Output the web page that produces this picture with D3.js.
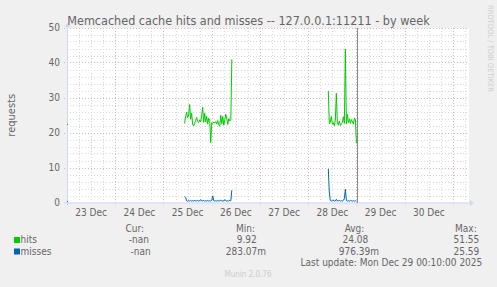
<!DOCTYPE html>
<html><head><meta charset="utf-8">
<script src="https://cdn.jsdelivr.net/npm/d3@7"></script>
<style>
html,body{margin:0;padding:0;background:#F0F0F0;}
svg{display:block;font-family:"DejaVu Sans Condensed","DejaVu Sans",sans-serif;font-stretch:condensed;}
</style></head>
<body>
<svg id="chart" width="497" height="287"></svg>
<script>
// ---- data ----
const title = "Memcached cache hits and misses -- 127.0.0.1:11211 - by week";
const yLabel = "requests";
const yTicks = [0, 10, 20, 30, 40, 50];
const dayLabels = ["23 Dec","24 Dec","25 Dec","26 Dec","27 Dec","28 Dec","29 Dec","30 Dec"];
const seriesNames = ["hits", "misses"];
const seriesColors = ["#00CC00", "#0066B3"];
const statHeaders = ["Cur:", "Min:", "Avg:", "Max:"];
const hitsStats = ["-nan", "9.92", "24.08", "51.55"];
const missesStats = ["-nan", "283.07m", "976.39m", "25.59"];
const lastUpdate = "Last update: Mon Dec 29 00:10:00 2025";
const version = "Munin 2.0.76";
const sideText = "RRDTOOL / TOBI OETIKER";

// time series at 30-minute steps (UTC)
const stepMin = 30;
const startPointTime = "2025-12-23T00:00Z";
const startPointHits = [22.3];
const startPointMisses = [0.3];
const block1Start = "2025-12-25T10:30Z";
const hits1 = [22.6,24.5,25.8,24.2,25.0,28.0,23.8,25.6,22.4,21.9,22.6,23.4,24.3,23.2,22.8,23.6,
  23.0,24.8,27.2,22.9,25.5,23.0,24.6,22.4,24.1,23.5,17.1,22.8,22.6,23.0,22.7,23.1,
  22.4,23.4,22.2,21.8,24.9,22.5,24.6,22.1,23.6,25.2,23.9,22.3,24.0,23.3,23.6,40.9];
const misses1 = [1.7,1.5,0.5,0.4,0.5,0.4,0.6,0.4,0.5,0.4,0.7,0.4,0.5,0.6,0.4,0.5,
  0.8,0.4,0.5,0.6,0.4,0.5,0.4,0.6,0.4,0.5,0.4,0.6,1.9,0.5,0.4,0.5,
  0.4,0.6,0.4,0.5,0.7,0.4,0.5,0.4,0.8,0.5,0.4,0.5,0.4,0.6,0.5,3.5];
const block2Start = "2025-12-28T10:00Z";
const hits2 = [31.9,22.5,23.0,24.6,22.4,22.8,21.9,23.5,31.2,22.6,22.1,23.3,22.0,22.5,22.9,24.5,
  22.6,43.8,22.4,25.2,22.8,23.9,22.6,23.7,23.0,22.4,24.1,23.6,16.9];
const misses2 = [9.6,3.0,0.6,0.4,0.5,0.7,0.4,0.5,0.9,0.4,0.5,0.6,0.4,0.5,0.4,0.6,
  1.2,3.8,0.6,0.4,0.5,0.4,0.6,0.5,0.4,0.5,0.4,0.5,0.4];
const nowTime = "2025-12-29T00:10Z";
const domainStart = "2025-12-23T00:00Z";
const domainEnd = "2025-12-31T08:00Z";

// ---- drawing ----
const svg = d3.select("#chart");
const W = 497, H = 287;
const L = 67, R = 469, T = 28, B = 202.5;
const x = d3.scaleUtc().domain([new Date(domainStart), new Date(domainEnd)]).range([L, R]);
const y = d3.scaleLinear().domain([0, 50]).range([B, T - 0.5]);

svg.append("rect").attr("width", W).attr("height", H).attr("fill", "#F0F0F0");
svg.append("rect").attr("x", L).attr("y", T).attr("width", R - L).attr("height", B - T).attr("fill", "#FFFFFF");

const toPts = (start, vals) => vals.map((v, i) => ({t: new Date(+new Date(start) + i * stepMin * 60000), v}));

// grid
const g = svg.append("g");
const minorY = d3.range(0, 51, 2).filter(v => v % 10 !== 0);
g.selectAll(".hmin").data(minorY).join("line")
  .attr("x1", L).attr("x2", R).attr("y1", d => Math.round(y(d)) + 0.5).attr("y2", d => Math.round(y(d)) + 0.5)
  .attr("stroke", "#d8d8d8").attr("stroke-dasharray", "1,2");
const minorX = d3.utcHour.every(6).range(new Date(domainStart), new Date(domainEnd)).filter(d => d.getUTCHours() !== 0);
g.selectAll(".vmin").data(minorX).join("line")
  .attr("x1", d => Math.round(x(d)) + 0.5).attr("x2", d => Math.round(x(d)) + 0.5).attr("y1", T).attr("y2", B)
  .attr("stroke", "#d8d8d8").attr("stroke-dasharray", "1,2");
g.selectAll(".hmaj").data(yTicks.filter(v => v > 0)).join("line")
  .attr("x1", L - 3).attr("x2", R).attr("y1", d => Math.round(y(d)) + 0.5).attr("y2", d => Math.round(y(d)) + 0.5)
  .attr("stroke", "#ebb0b0").attr("stroke-dasharray", "1,2");
const majorX = d3.utcDay.range(new Date(domainStart), new Date(domainEnd)).filter(d => +d > +new Date(domainStart));
g.selectAll(".vmaj").data(majorX).join("line")
  .attr("x1", d => Math.round(x(d)) + 0.5).attr("x2", d => Math.round(x(d)) + 0.5).attr("y1", T).attr("y2", B + 3)
  .attr("stroke", "#ebb0b0").attr("stroke-dasharray", "1,2");

// axes
const axisColor = "#CFD6F8";
svg.append("line").attr("x1", L - 3).attr("x2", R + 2).attr("y1", B + 0.5).attr("y2", B + 0.5).attr("stroke", axisColor);
svg.append("line").attr("x1", L + 0.5).attr("x2", L + 0.5).attr("y1", B + 3).attr("y2", T - 3).attr("stroke", axisColor);
svg.append("path").attr("d", `M${R + 1},${B - 2.5} L${R + 5},${B + 0.5} L${R + 1},${B + 3.5} Z`).attr("fill", axisColor);
svg.append("path").attr("d", `M${L - 2.5},${T - 1} L${L + 0.5},${T - 5} L${L + 3.5},${T - 1} Z`).attr("fill", axisColor);

// y tick labels
svg.selectAll(".ylab").data(yTicks).join("text")
  .attr("x", 60).attr("y", d => y(d) + 3.5).attr("text-anchor", "end")
  .attr("font-size", "10px").attr("fill", "#666").text(d => d);

// x labels at noon of each day
svg.selectAll(".xlab").data(dayLabels).join("text")
  .attr("x", (d, i) => x(d3.utcHour.offset(new Date(domainStart), 24 * i + 12)))
  .attr("y", 216).attr("text-anchor", "middle")
  .attr("font-size", "10px").attr("fill", "#666").text(d => d);

// series
const line = d3.line().x(d => x(d.t)).y(d => y(d.v));
const series = [
  {name: seriesNames[0], color: seriesColors[0], blocks: [toPts(block1Start, hits1), toPts(block2Start, hits2)], single: toPts(startPointTime, startPointHits)},
  {name: seriesNames[1], color: seriesColors[1], blocks: [toPts(block1Start, misses1), toPts(block2Start, misses2)], single: toPts(startPointTime, startPointMisses)}
];
series.forEach(s => {
  s.blocks.forEach(b => svg.append("path").attr("d", line(b)).attr("fill", "none").attr("stroke", s.color).attr("stroke-width", 1));
  svg.selectAll(null).data(s.single).join("rect")
    .attr("x", d => x(d.t)).attr("y", d => y(d.v) - 0.5).attr("width", 1).attr("height", 1).attr("fill", s.color);
});

// now line
svg.append("line").attr("x1", Math.round(x(new Date(nowTime))) + 0.5).attr("x2", Math.round(x(new Date(nowTime))) + 0.5)
  .attr("y1", T).attr("y2", B + 0.5).attr("stroke", "#8a8a8a").attr("stroke-width", 1);

// title
svg.append("text").attr("x", W / 2).attr("y", 25).attr("text-anchor", "middle")
  .attr("font-size", "12.5px").attr("fill", "#666").text(title);

// y label
svg.append("text").attr("transform", `translate(15,${(T + B) / 2}) rotate(-90)`).attr("text-anchor", "middle")
  .attr("font-size", "11px").attr("fill", "#666").text(yLabel);

// side text
svg.append("text").attr("transform", `translate(488,5) rotate(90)`).attr("text-anchor", "start")
  .attr("font-size", "7.5px").attr("fill", "#cccccc").text(sideText);

// legend
const lf = "10px";
const headerRight = [144, 255, 364.3, 476.7];
svg.selectAll(".hdr").data(statHeaders).join("text")
  .attr("x", (d, i) => headerRight[i]).attr("y", 231.5).attr("text-anchor", "end")
  .attr("font-size", lf).attr("fill", "#666").text(d => d);
const rows = [
  {name: seriesNames[0], color: seriesColors[0], stats: hitsStats, yb: 243, right: [149, 256.7, 368.3, 479.3]},
  {name: seriesNames[1], color: seriesColors[1], stats: missesStats, yb: 254.5, right: [150.7, 266, 379, 479.3]}
];
rows.forEach(r => {
  svg.append("rect").attr("x", 14).attr("y", r.yb - 6).attr("width", 6).attr("height", 6).attr("fill", r.color);
  svg.append("text").attr("x", 20.5).attr("y", r.yb).attr("font-size", lf).attr("fill", "#666").text(r.name);
  r.stats.forEach((s, i) => svg.append("text").attr("x", r.right[i]).attr("y", r.yb).attr("text-anchor", "end")
    .attr("font-size", lf).attr("fill", "#666").text(s));
});
svg.append("text").attr("x", 482.3).attr("y", 266).attr("text-anchor", "end")
  .attr("font-size", lf).attr("fill", "#666").text(lastUpdate);
svg.append("text").attr("x", 248).attr("y", 277).attr("text-anchor", "middle")
  .attr("font-size", "8px").attr("fill", "#cccccc").text(version);
</script>
</body></html>
